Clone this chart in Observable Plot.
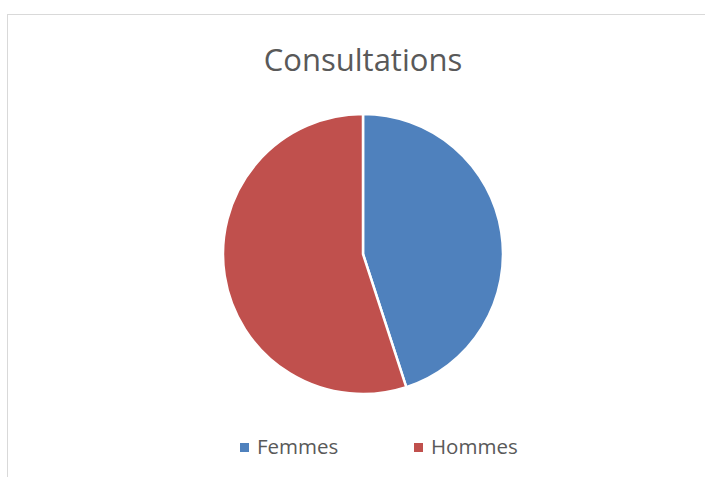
<!DOCTYPE html>
<html>
<head>
<meta charset="utf-8">
<script src="https://cdn.jsdelivr.net/npm/d3@7"></script>
<script src="https://cdn.jsdelivr.net/npm/@observablehq/plot@0.6"></script>
<style>
  html, body { margin: 0; padding: 0; background: #fff; width: 705px; height: 477px; overflow: hidden; font-family: "Open Sans", sans-serif; }
  #frame { position: absolute; left: 7px; top: 14px; width: 800px; height: 600px; border-top: 1.5px solid #D9D9D9; border-left: 1.5px solid #D9D9D9; box-sizing: border-box; }
  #title { position: absolute; left: 0; top: 37px; width: 726px; text-align: center; font-size: 31px; color: #595959; line-height: 44px; }
  #chart { position: absolute; left: 0; top: 100px; }
  #legend { position: absolute; left: 0; top: 431px; height: 30px; font-size: 20.5px; color: #595959; }
  .item { position: absolute; top: 0; white-space: nowrap; line-height: 30px; }
  .sw { position: absolute; width: 9px; height: 9px; top: 12px; }
  .lbl { position: absolute; top: 0; }
</style>
</head>
<body>
<div id="frame"></div>
<div id="title">Consultations</div>
<div id="chart"></div>
<div id="legend"></div>
<script>
const categories = ["Femmes", "Hommes"];
const values = [45, 55];
const colors = ["#4F81BD", "#C0504D"];

const table = categories.map((c, i) => ({category: c, value: values[i]}));
const arcs = d3.pie().sort(null).value(d => d.value)(table)
  .map(a => ({category: a.data.category, startAngle: a.startAngle, endAngle: a.endAngle, cx: 0, cy: 0}));

const plot = Plot.plot({
  width: 705,
  height: 308,
  marginLeft: 224,
  marginRight: 203,
  marginTop: 15,
  marginBottom: 15,
  x: {domain: [-1, 1], axis: null},
  y: {domain: [-1, 1], axis: null},
  color: {domain: categories, range: colors},
  marks: [
    Plot.dot(arcs, {
      x: "cx",
      y: "cy",
      fill: "category",
      render(index, scales, vals, dimensions, context) {
        const r = scales.x(1) - scales.x(0) + 1;
        const g = d3.create("svg:g");
        for (const i of index) {
          const a = arcs[i];
          g.append("path")
            .attr("transform", `translate(${vals.x[i]},${vals.y[i]})`)
            .attr("d", d3.arc().innerRadius(0).outerRadius(r)({startAngle: a.startAngle, endAngle: a.endAngle}))
            .attr("fill", vals.fill[i])
            .attr("stroke", "#fff")
            .attr("stroke-width", 2.5)
            .attr("stroke-linejoin", "round");
        }
        return g.node();
      }
    })
  ]
});
document.getElementById("chart").appendChild(plot);

const legendX = [240, 414];
const legend = document.getElementById("legend");
categories.forEach((c, i) => {
  const item = document.createElement("div");
  item.className = "item";
  item.style.left = legendX[i] + "px";
  const sw = document.createElement("div");
  sw.className = "sw";
  sw.style.background = colors[i];
  sw.style.left = "0px";
  const lbl = document.createElement("div");
  lbl.className = "lbl";
  lbl.style.left = "17px";
  lbl.textContent = c;
  item.appendChild(sw);
  item.appendChild(lbl);
  legend.appendChild(item);
});
</script>
</body>
</html>
